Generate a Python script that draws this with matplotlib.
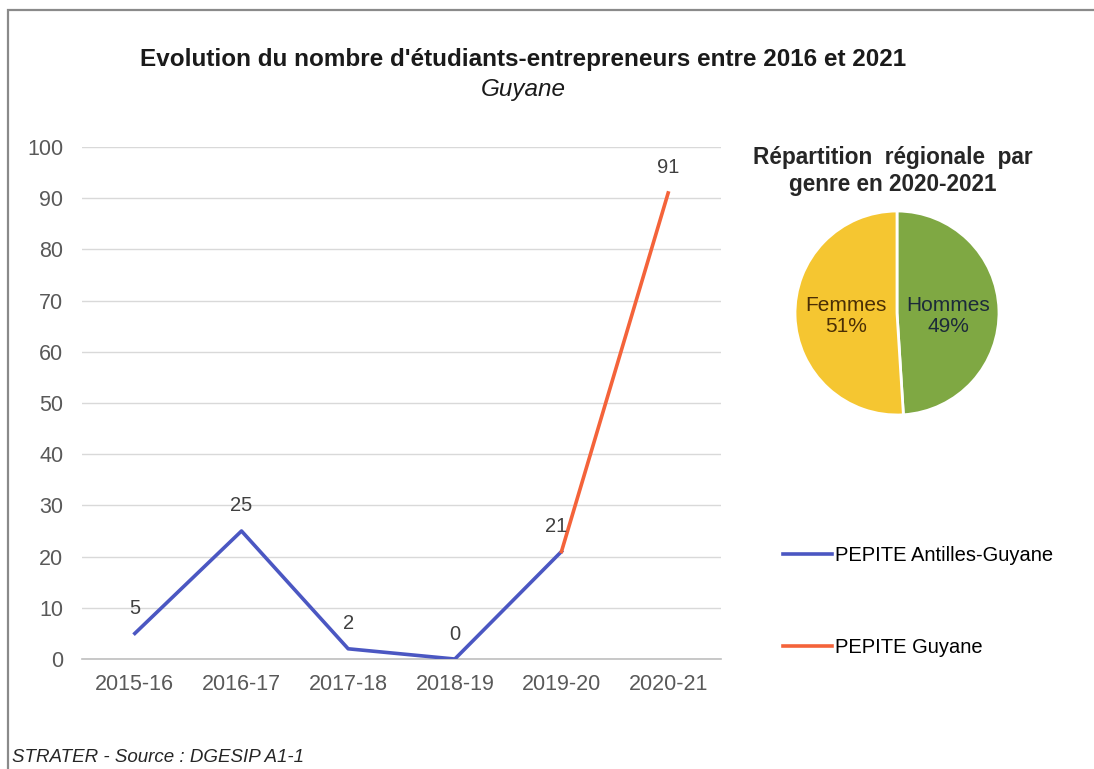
import numpy as np
import matplotlib.pyplot as plt
from matplotlib.patches import Rectangle

plt.rcParams['font.family'] = ['Liberation Sans', 'DejaVu Sans']

# data
years = ['2015-16', '2016-17', '2017-18', '2018-19', '2019-20', '2020-21']
antilles = [5, 25, 2, 0, 21]
guyane = [21, 91]
genre = ['Hommes', 'Femmes']
genre_pct = [49, 51]

blue = '#4B57C2'
orange = '#F4633A'

fig = plt.figure(figsize=(10.94, 7.69), dpi=100)

# frame around the picture
fig.patches.append(Rectangle((8/1094, -0.02), 1.1, 1 - 10/769 + 0.02, transform=fig.transFigure,
                             fill=False, edgecolor='#8a8a8a', linewidth=1.6))

ax = fig.add_axes([0.0745, 0.143, 0.585, 0.666])
x_a = np.arange(len(antilles))
x_g = np.arange(len(antilles) - 1, len(years))
ax.plot(x_a, antilles, color=blue, lw=2.6, label='PEPITE Antilles-Guyane', zorder=3)
ax.plot(x_g, guyane, color=orange, lw=2.6, label='PEPITE Guyane', zorder=3)

for i, v in enumerate(antilles):
    dx = -4 if i == len(antilles) - 1 else 0
    ax.annotate(str(v), (i, v), xytext=(dx, 18), textcoords='offset points',
                ha='center', va='center', fontsize=14.5, color='#404040')
ax.annotate(str(guyane[-1]), (x_g[-1], guyane[-1]), xytext=(0, 18), textcoords='offset points',
            ha='center', va='center', fontsize=14.5, color='#404040')

ax.set_xlim(-0.5, len(years) - 0.5)
ax.set_ylim(0, 100)
ax.set_yticks(np.arange(0, 101, 10))
ax.set_xticks(np.arange(len(years)))
ax.set_xticklabels(years)
ax.tick_params(axis='both', length=0, labelsize=15.5, labelcolor='#595959')
ax.tick_params(axis='y', pad=13)
ax.tick_params(axis='x', pad=11)
ax.grid(axis='y', color='#d9d9d9', lw=1)
ax.set_axisbelow(True)
for s in ['top', 'right', 'left']:
    ax.spines[s].set_visible(False)
ax.spines['bottom'].set_color('#bfbfbf')
ax.spines['bottom'].set_linewidth(1.2)

fig.legend(loc='center left', bbox_to_anchor=(0.716, 0.218), frameon=False,
           fontsize=14.5, handlelength=2.4, handletextpad=0.15, labelspacing=3.6,
           borderpad=0, borderaxespad=0)

# titles
fig.text(0.478, 0.922, "Evolution du nombre d'étudiants-entrepreneurs entre 2016 et 2021",
         ha='center', va='center', fontsize=17.5, fontweight='bold', color='#1a1a1a')
fig.text(0.478, 0.884, 'Guyane', ha='center', va='center', fontsize=17.5,
         style='italic', color='#1a1a1a')

# pie
r = 103
pax = fig.add_axes([(897 - r) / 1094, 1 - (313 + r) / 769, 2 * r / 1094, 2 * r / 769])
wedges, _, autot = pax.pie(genre_pct, colors=['#7FA843', '#F5C631'], startangle=90, counterclock=False,
                           wedgeprops=dict(edgecolor='white', linewidth=2), radius=1,
                           autopct='%1.0f%%', pctdistance=0.5)
for t, g, c in zip(autot, genre, ['#1c2a3a', '#4a2e05']):
    t.set_text(g + '\n' + t.get_text())
    t.set_fontsize(15)
    t.set_color(c)
    t.set_linespacing(1.15)
    t.set_position((t.get_position()[0], -0.03))
pax.set_xlim(-1.01, 1.01)
pax.set_ylim(-1.01, 1.01)
pax.set_aspect('equal')

fig.text(893 / 1094, 1 - 171 / 769, 'Répartition  régionale  par\ngenre en 2020-2021', ha='center',
         va='center', fontsize=16.3, fontweight='bold', color='#262626', linespacing=1.2)

fig.text(12 / 1094, 1 - 758 / 769, 'STRATER - Source : DGESIP A1-1', ha='left', va='center',
         fontsize=13.5, style='italic', color='#262626')

fig.savefig('out.png', dpi=100)
